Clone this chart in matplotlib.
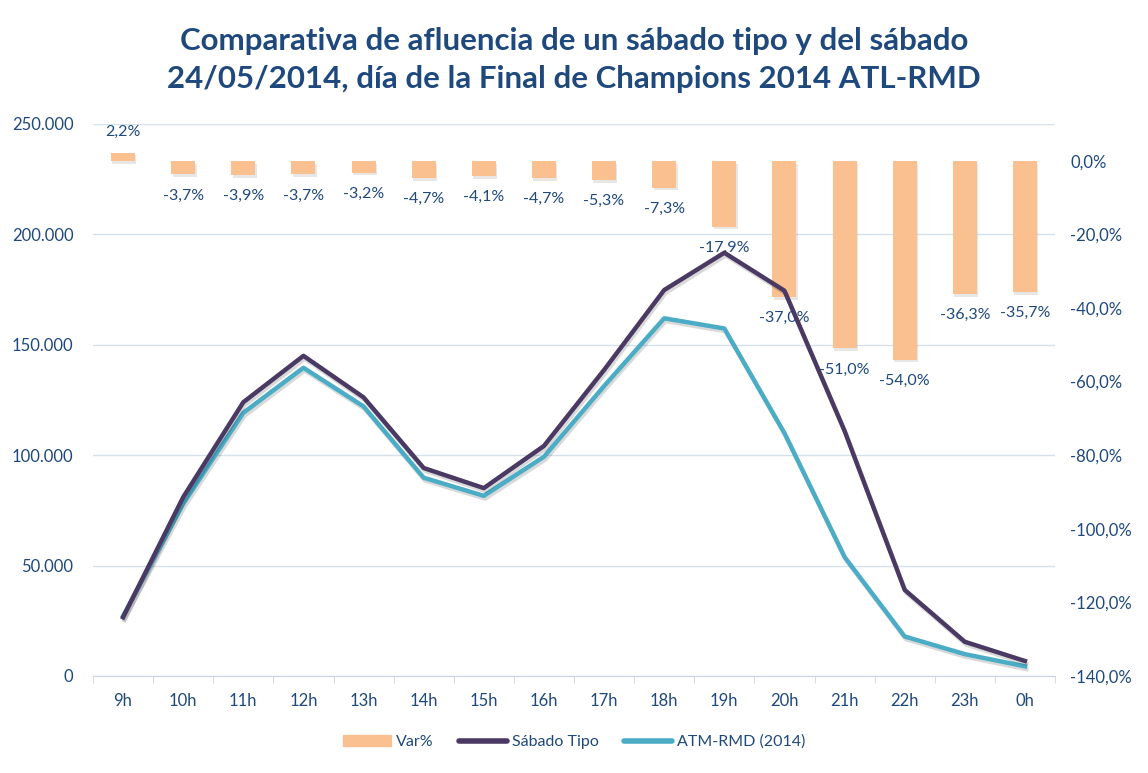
import matplotlib
matplotlib.use("Agg")
import matplotlib.pyplot as plt
import matplotlib.patheffects as pe
import matplotlib.ticker as mticker
from matplotlib.patches import Patch
from matplotlib.lines import Line2D
import numpy as np

plt.rcParams['font.family'] = ['Lato', 'DejaVu Sans']

# data
hours = ['9h', '10h', '11h', '12h', '13h', '14h', '15h', '16h',
         '17h', '18h', '19h', '20h', '21h', '22h', '23h', '0h']
sabado_tipo = [26600, 81000, 124000, 145000, 126200, 94200, 85100, 104200,
               138600, 174800, 191700, 174500, 111000, 39000, 15500, 6800]
atm_rmd = [27200, 78000, 119200, 139600, 122100, 89800, 81600, 99300,
           131300, 162000, 157400, 110000, 53900, 17900, 9900, 4400]
var_pct = [2.2, -3.7, -3.9, -3.7, -3.2, -4.7, -4.1, -4.7,
           -5.3, -7.3, -17.9, -37.0, -51.0, -54.0, -36.3, -35.7]

text_col = '#1F497D'
bar_col = '#FAC090'
sab_col = '#4A3A63'
atm_col = '#4BACC6'
grid_col = '#D6E1EC'

x = np.arange(len(hours))

fig = plt.figure(figsize=(11.48, 7.73), dpi=100)
ax = fig.add_axes([93 / 1148, 1 - 676 / 773, (1055 - 93) / 1148, (676 - 124) / 773])
ax_bar = ax.twinx()
ax_line = ax.twinx()

# base axis: grid, left ticks, x ticks
ax.set_xlim(-0.5, len(hours) - 0.5)
ax.set_ylim(0, 250000)
ax.yaxis.set_major_locator(mticker.MultipleLocator(50000))
ax.yaxis.set_major_formatter(mticker.FuncFormatter(
    lambda v, p: '0' if v == 0 else f'{int(v):,}'.replace(',', '.')))
ax.grid(axis='y', color=grid_col, lw=1)
ax.set_axisbelow(True)
ax.set_xticks(x)
ax.set_xticklabels(hours)
ax.set_xticks(np.arange(-0.5, len(hours)), minor=True)
ax.tick_params(axis='x', which='major', length=0, pad=12, labelsize=12, labelcolor=text_col)
ax.tick_params(axis='x', which='minor', length=5, color='#C9D5E3')
ax.tick_params(axis='y', length=0, pad=14, labelsize=12, labelcolor=text_col)
for s in ['top', 'right', 'left']:
    ax.spines[s].set_visible(False)
ax.spines['bottom'].set_color('#C9D5E3')

# bars on right axis
ax_bar.set_ylim(-1.4, 0.1)
ax_bar.yaxis.set_major_locator(mticker.FixedLocator(np.arange(-1.4, 0.01, 0.2)))
ax_bar.yaxis.set_major_formatter(mticker.FuncFormatter(
    lambda v, p: f'{v * 100:.1f}%'.replace('.', ',').replace('-0,0', '0,0')))
ax_bar.tick_params(axis='y', length=0, pad=11, labelsize=12, labelcolor=text_col)
for s in ax_bar.spines.values():
    s.set_visible(False)
vals = np.array(var_pct) / 100
ax_bar.bar(x, vals, width=0.4, color=bar_col, zorder=2,
           path_effects=[pe.SimplePatchShadow(offset=(1, -2), alpha=0.12), pe.Normal()])
for xi, v in zip(x, var_pct):
    off = 21 if v > 0 else -21
    ax_bar.annotate(f'{v:.1f}%'.replace('.', ','), (xi, v / 100), xytext=(0, off),
                    textcoords='offset pixels', ha='center', va='center',
                    fontsize=11.5, color=text_col)

# lines on top, left scale
ax_line.set_ylim(0, 250000)
ax_line.set_yticks([])
for s in ax_line.spines.values():
    s.set_visible(False)
shadow = [pe.SimpleLineShadow(offset=(1, -2), alpha=0.15), pe.Normal()]
ax_line.plot(x, atm_rmd, color=atm_col, lw=3.2, path_effects=shadow, label='ATM-RMD (2014)')
ax_line.plot(x, sabado_tipo, color=sab_col, lw=3.2, path_effects=shadow, label='Sábado Tipo')

# title
fig.text(0.5, 1 - 60 / 773, 'Comparativa de afluencia de un sábado tipo y del sábado\n'
         '24/05/2014, día de la Final de Champions 2014 ATL-RMD',
         ha='center', va='center', fontsize=22.5, fontweight='bold', color=text_col,
         linespacing=1.4)

# legend
handles = [Patch(color=bar_col, label='Var%'),
           Line2D([], [], color=sab_col, lw=4, solid_capstyle='round', label='Sábado Tipo'),
           Line2D([], [], color=atm_col, lw=4, solid_capstyle='round', label='ATM-RMD (2014)')]
leg = fig.legend(handles=handles, loc='center', bbox_to_anchor=(0.5, 1 - 742 / 773),
                 ncol=3, frameon=False, fontsize=11.5, handlelength=3, columnspacing=1.6,
                 handletextpad=0.3)
for t in leg.get_texts():
    t.set_color(text_col)

fig.savefig('out.png', dpi=100)
